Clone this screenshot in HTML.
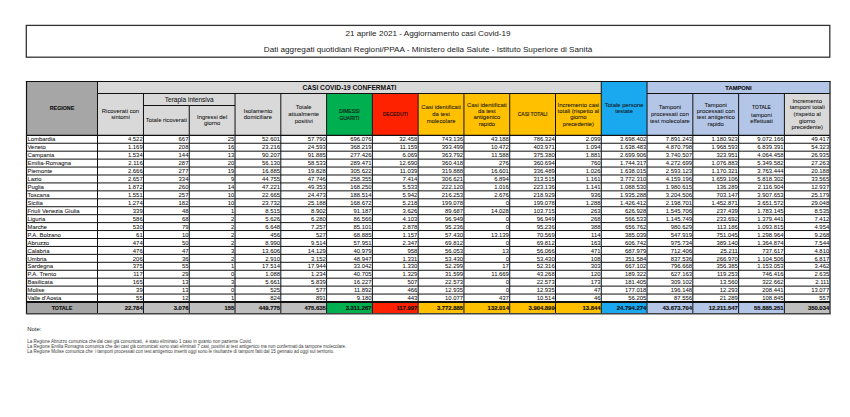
<!DOCTYPE html>
<html><head><meta charset="utf-8"><style>
html,body{margin:0;padding:0;background:#fff;width:850px;height:417px;overflow:hidden;position:relative;font-family:"Liberation Sans", sans-serif;color:#000}
svg{position:absolute;left:0;top:0}
.t{position:absolute;display:flex;align-items:center;overflow:visible;white-space:nowrap}
.t span{display:block}
.l1,.l2{position:absolute;left:26px;width:804px;text-align:center;font-size:7.6px;line-height:9px;color:#222;transform:scaleX(1.072)}
.l1{top:28.6px}
.l2{top:44.5px}
.h{font-size:5.9px;line-height:6.7px;color:#111;-webkit-text-stroke:0.05px #111}
.hb{font-size:5.8px;font-weight:bold;color:#111;-webkit-text-stroke:0.12px #111}
.hbig{font-size:6.65px;font-weight:bold;color:#111}
.u{font-weight:normal;font-size:4.95px;-webkit-text-stroke:0.12px #111}
.hmid{font-size:6.5px;color:#111;-webkit-text-stroke:0.05px #111}
.d{font-size:5.9px;line-height:7px;color:#111;padding-top:0.7px;-webkit-text-stroke:0.05px #111}
.db{font-size:5.9px;line-height:7px;font-weight:bold;color:#111;padding-top:0.5px;-webkit-text-stroke:0.15px #111}
.notes{position:absolute;left:27.3px;top:325px;color:#222}
.nt{font-size:5.9px;line-height:8px}
.nl{margin-top:7.3px;font-size:4.45px;line-height:4.65px;color:#3a3a3a}
</style></head><body>
<svg width="850" height="417" viewBox="0 0 850 417">
<rect x="26.3" y="25.4" width="803.5" height="31.8" fill="none" stroke="#333" stroke-width="1.3"/>
<rect x="26.50" y="81.50" width="71.00" height="53.80" fill="#a6a6a6"/>
<rect x="97.50" y="81.50" width="503.78" height="12.00" fill="#d9d9d9"/>
<rect x="97.50" y="93.50" width="229.10" height="41.80" fill="#d9d9d9"/>
<rect x="326.60" y="93.50" width="45.78" height="41.80" fill="#00b050"/>
<rect x="372.38" y="93.50" width="45.78" height="41.80" fill="#ff2200"/>
<rect x="418.16" y="93.50" width="45.78" height="41.80" fill="#ffc000"/>
<rect x="463.94" y="93.50" width="45.78" height="41.80" fill="#ffc000"/>
<rect x="509.72" y="93.50" width="45.78" height="41.80" fill="#ffc000"/>
<rect x="555.50" y="93.50" width="45.78" height="41.80" fill="#ffc000"/>
<rect x="601.28" y="81.50" width="45.78" height="53.80" fill="#1aa8ee"/>
<rect x="647.06" y="93.50" width="45.78" height="41.80" fill="#b4c6e7"/>
<rect x="692.84" y="93.50" width="45.78" height="41.80" fill="#b4c6e7"/>
<rect x="738.62" y="93.50" width="45.78" height="41.80" fill="#b4c6e7"/>
<rect x="784.40" y="93.50" width="45.60" height="41.80" fill="#d9d9d9"/>
<rect x="647.06" y="81.50" width="182.94" height="12.00" fill="#b4c6e7"/>
<rect x="26.50" y="302.00" width="71.00" height="11.80" fill="#a6a6a6"/>
<rect x="97.50" y="302.00" width="45.98" height="11.80" fill="#bfbfbf"/>
<rect x="143.48" y="302.00" width="45.78" height="11.80" fill="#bfbfbf"/>
<rect x="189.26" y="302.00" width="45.78" height="11.80" fill="#bfbfbf"/>
<rect x="235.04" y="302.00" width="45.78" height="11.80" fill="#bfbfbf"/>
<rect x="280.82" y="302.00" width="45.78" height="11.80" fill="#bfbfbf"/>
<rect x="326.60" y="302.00" width="45.78" height="11.80" fill="#00b050"/>
<rect x="372.38" y="302.00" width="45.78" height="11.80" fill="#ff2200"/>
<rect x="418.16" y="302.00" width="45.78" height="11.80" fill="#ffc000"/>
<rect x="463.94" y="302.00" width="45.78" height="11.80" fill="#ffc000"/>
<rect x="509.72" y="302.00" width="45.78" height="11.80" fill="#ffc000"/>
<rect x="555.50" y="302.00" width="45.78" height="11.80" fill="#ffc000"/>
<rect x="601.28" y="302.00" width="45.78" height="11.80" fill="#1aa8ee"/>
<rect x="647.06" y="302.00" width="45.78" height="11.80" fill="#b4c6e7"/>
<rect x="692.84" y="302.00" width="45.78" height="11.80" fill="#b4c6e7"/>
<rect x="738.62" y="302.00" width="45.78" height="11.80" fill="#b4c6e7"/>
<rect x="784.40" y="302.00" width="45.60" height="11.80" fill="#bfbfbf"/>
<line x1="25.90" y1="81.50" x2="830.70" y2="81.50" stroke="#111" stroke-width="1.2"/>
<line x1="97.50" y1="93.50" x2="601.28" y2="93.50" stroke="#111" stroke-width="1"/>
<line x1="647.06" y1="93.50" x2="830.00" y2="93.50" stroke="#111" stroke-width="1"/>
<line x1="143.48" y1="105.50" x2="235.04" y2="105.50" stroke="#111" stroke-width="1"/>
<line x1="26.50" y1="135.30" x2="830.00" y2="135.30" stroke="#111" stroke-width="1.2"/>
<line x1="26.50" y1="81.50" x2="26.50" y2="313.80" stroke="#111" stroke-width="1.2"/>
<line x1="830.00" y1="81.50" x2="830.00" y2="313.80" stroke="#333" stroke-width="1.4"/>
<line x1="97.50" y1="81.50" x2="97.50" y2="313.80" stroke="#111" stroke-width="1"/>
<line x1="601.28" y1="81.50" x2="601.28" y2="93.50" stroke="#111" stroke-width="1"/>
<line x1="647.06" y1="81.50" x2="647.06" y2="93.50" stroke="#111" stroke-width="1"/>
<line x1="143.48" y1="93.50" x2="143.48" y2="313.80" stroke="#111" stroke-width="1"/>
<line x1="189.26" y1="105.50" x2="189.26" y2="313.80" stroke="#111" stroke-width="1"/>
<line x1="235.04" y1="93.50" x2="235.04" y2="313.80" stroke="#111" stroke-width="1"/>
<line x1="280.82" y1="93.50" x2="280.82" y2="313.80" stroke="#111" stroke-width="1"/>
<line x1="326.60" y1="93.50" x2="326.60" y2="313.80" stroke="#111" stroke-width="1"/>
<line x1="372.38" y1="93.50" x2="372.38" y2="313.80" stroke="#111" stroke-width="1"/>
<line x1="418.16" y1="93.50" x2="418.16" y2="313.80" stroke="#111" stroke-width="1"/>
<line x1="463.94" y1="93.50" x2="463.94" y2="313.80" stroke="#111" stroke-width="1"/>
<line x1="509.72" y1="93.50" x2="509.72" y2="313.80" stroke="#111" stroke-width="1"/>
<line x1="555.50" y1="93.50" x2="555.50" y2="313.80" stroke="#111" stroke-width="1"/>
<line x1="601.28" y1="93.50" x2="601.28" y2="313.80" stroke="#111" stroke-width="1"/>
<line x1="647.06" y1="93.50" x2="647.06" y2="313.80" stroke="#111" stroke-width="1"/>
<line x1="692.84" y1="93.50" x2="692.84" y2="313.80" stroke="#111" stroke-width="1"/>
<line x1="738.62" y1="93.50" x2="738.62" y2="313.80" stroke="#111" stroke-width="1"/>
<line x1="784.40" y1="93.50" x2="784.40" y2="313.80" stroke="#111" stroke-width="1"/>
<line x1="26.50" y1="143.24" x2="830.00" y2="143.24" stroke="#111" stroke-width="1"/>
<line x1="26.50" y1="151.18" x2="830.00" y2="151.18" stroke="#111" stroke-width="1"/>
<line x1="26.50" y1="159.11" x2="830.00" y2="159.11" stroke="#111" stroke-width="1"/>
<line x1="26.50" y1="167.05" x2="830.00" y2="167.05" stroke="#111" stroke-width="1"/>
<line x1="26.50" y1="174.99" x2="830.00" y2="174.99" stroke="#111" stroke-width="1"/>
<line x1="26.50" y1="182.93" x2="830.00" y2="182.93" stroke="#111" stroke-width="1"/>
<line x1="26.50" y1="190.87" x2="830.00" y2="190.87" stroke="#111" stroke-width="1"/>
<line x1="26.50" y1="198.80" x2="830.00" y2="198.80" stroke="#111" stroke-width="1"/>
<line x1="26.50" y1="206.74" x2="830.00" y2="206.74" stroke="#111" stroke-width="1"/>
<line x1="26.50" y1="214.68" x2="830.00" y2="214.68" stroke="#111" stroke-width="1"/>
<line x1="26.50" y1="222.62" x2="830.00" y2="222.62" stroke="#111" stroke-width="1"/>
<line x1="26.50" y1="230.56" x2="830.00" y2="230.56" stroke="#111" stroke-width="1"/>
<line x1="26.50" y1="238.49" x2="830.00" y2="238.49" stroke="#111" stroke-width="1"/>
<line x1="26.50" y1="246.43" x2="830.00" y2="246.43" stroke="#111" stroke-width="1"/>
<line x1="26.50" y1="254.37" x2="830.00" y2="254.37" stroke="#111" stroke-width="1"/>
<line x1="26.50" y1="262.31" x2="830.00" y2="262.31" stroke="#111" stroke-width="1"/>
<line x1="26.50" y1="270.25" x2="830.00" y2="270.25" stroke="#111" stroke-width="1"/>
<line x1="26.50" y1="278.18" x2="830.00" y2="278.18" stroke="#111" stroke-width="1"/>
<line x1="26.50" y1="286.12" x2="830.00" y2="286.12" stroke="#111" stroke-width="1"/>
<line x1="26.50" y1="294.06" x2="830.00" y2="294.06" stroke="#111" stroke-width="1"/>
<line x1="26.50" y1="302.00" x2="830.00" y2="302.00" stroke="#111" stroke-width="1.8"/>
<line x1="25.90" y1="313.80" x2="830.70" y2="313.80" stroke="#444" stroke-width="1.5"/>
</svg>
<div class="l1">21 aprile 2021 - Aggiornamento casi Covid-19</div>
<div class="l2">Dati aggregati quotidiani Regioni/PPAA - Ministero della Salute - Istituto Superiore di Sanità</div>
<div class="t hb" style="left:26.50px;top:81.50px;width:71.00px;height:53.80px;justify-content:center;text-align:center;font-size:5.3px"><span>REGIONE</span></div>
<div class="t hbig" style="left:97.50px;top:81.50px;width:503.78px;height:12.00px;justify-content:center;text-align:center;"><span>CASI COVID-19 CONFERMATI</span></div>
<div class="t hb" style="left:647.06px;top:81.50px;width:182.94px;height:12.00px;justify-content:center;text-align:center;"><span>TAMPONI</span></div>
<div class="t hmid" style="left:143.48px;top:93.50px;width:91.56px;height:12.00px;justify-content:center;text-align:center;"><span>Terapia intensiva</span></div>
<div class="t h" style="left:97.50px;top:93.50px;width:45.98px;height:41.80px;justify-content:center;text-align:center;"><span>Ricoverati con<br>sintomi</span></div>
<div class="t h" style="left:143.48px;top:105.50px;width:45.78px;height:29.80px;justify-content:center;text-align:center;"><span>Totale ricoverati</span></div>
<div class="t h" style="left:189.26px;top:105.50px;width:45.78px;height:29.80px;justify-content:center;text-align:center;"><span>Ingressi del<br>giorno</span></div>
<div class="t h" style="left:235.04px;top:93.50px;width:45.78px;height:41.80px;justify-content:center;text-align:center;"><span>Isolamento<br>domiciliare</span></div>
<div class="t h" style="left:280.82px;top:93.50px;width:45.78px;height:41.80px;justify-content:center;text-align:center;"><span>Totale<br>attualmente<br>positivi</span></div>
<div class="t h" style="left:326.60px;top:93.50px;width:45.78px;height:41.80px;justify-content:center;text-align:center;padding-top:2px;box-sizing:border-box"><span><b class="u">DIMESSI<br>GUARITI</b></span></div>
<div class="t h" style="left:372.38px;top:93.50px;width:45.78px;height:41.80px;justify-content:center;text-align:center;"><span><b class="u">DECEDUTI</b></span></div>
<div class="t h" style="left:418.16px;top:93.50px;width:45.78px;height:41.80px;justify-content:center;text-align:center;"><span>Casi identificati<br>da test<br>molecolare</span></div>
<div class="t h" style="left:463.94px;top:93.50px;width:45.78px;height:41.80px;justify-content:center;text-align:center;line-height:6.4px"><span>Casi identificati<br>da test<br>antigenico<br>rapido</span></div>
<div class="t h" style="left:509.72px;top:93.50px;width:45.78px;height:41.80px;justify-content:center;text-align:center;"><span><b class="u">CASI TOTALI</b></span></div>
<div class="t h" style="left:555.50px;top:93.50px;width:45.78px;height:41.80px;justify-content:center;text-align:center;line-height:6.4px"><span>Incremento casi<br>totali (rispetto al<br>giorno<br>precedente)</span></div>
<div class="t h" style="left:601.28px;top:81.50px;width:45.78px;height:53.80px;justify-content:center;text-align:center;"><span>Totale persone<br>testate</span></div>
<div class="t h" style="left:647.06px;top:93.50px;width:45.78px;height:41.80px;justify-content:center;text-align:center;"><span>Tamponi<br>processati con<br>test molecolare</span></div>
<div class="t h" style="left:692.84px;top:93.50px;width:45.78px;height:41.80px;justify-content:center;text-align:center;line-height:6.4px"><span>Tamponi<br>processati con<br>test antigenico<br>rapido</span></div>
<div class="t h" style="left:738.62px;top:93.50px;width:45.78px;height:41.80px;justify-content:center;text-align:center;"><span><b class="u">TOTALE</b><br>tamponi<br>effettuati</span></div>
<div class="t h" style="left:784.40px;top:93.50px;width:45.60px;height:41.80px;justify-content:center;text-align:center;"><span>Incremento<br>tamponi totali<br>(rispetto al<br>giorno<br>precedente)</span></div>
<div class="t d" style="left:27.50px;top:135.30px;width:70.00px;height:7.94px;justify-content:flex-start;text-align:left;"><span>Lombardia</span></div>
<div class="t d" style="left:97.50px;top:135.30px;width:45.18px;height:7.94px;justify-content:flex-end;text-align:right;"><span>4.522</span></div>
<div class="t d" style="left:143.48px;top:135.30px;width:44.98px;height:7.94px;justify-content:flex-end;text-align:right;"><span>667</span></div>
<div class="t d" style="left:189.26px;top:135.30px;width:44.98px;height:7.94px;justify-content:flex-end;text-align:right;"><span>25</span></div>
<div class="t d" style="left:235.04px;top:135.30px;width:44.98px;height:7.94px;justify-content:flex-end;text-align:right;"><span>52.601</span></div>
<div class="t d" style="left:280.82px;top:135.30px;width:44.98px;height:7.94px;justify-content:flex-end;text-align:right;"><span>57.790</span></div>
<div class="t d" style="left:326.60px;top:135.30px;width:44.98px;height:7.94px;justify-content:flex-end;text-align:right;"><span>696.076</span></div>
<div class="t d" style="left:372.38px;top:135.30px;width:44.98px;height:7.94px;justify-content:flex-end;text-align:right;"><span>32.458</span></div>
<div class="t d" style="left:418.16px;top:135.30px;width:44.98px;height:7.94px;justify-content:flex-end;text-align:right;"><span>743.136</span></div>
<div class="t d" style="left:463.94px;top:135.30px;width:44.98px;height:7.94px;justify-content:flex-end;text-align:right;"><span>43.188</span></div>
<div class="t d" style="left:509.72px;top:135.30px;width:44.98px;height:7.94px;justify-content:flex-end;text-align:right;"><span>786.324</span></div>
<div class="t d" style="left:555.50px;top:135.30px;width:44.98px;height:7.94px;justify-content:flex-end;text-align:right;"><span>2.099</span></div>
<div class="t d" style="left:601.28px;top:135.30px;width:44.98px;height:7.94px;justify-content:flex-end;text-align:right;"><span>3.698.402</span></div>
<div class="t d" style="left:647.06px;top:135.30px;width:44.98px;height:7.94px;justify-content:flex-end;text-align:right;"><span>7.891.243</span></div>
<div class="t d" style="left:692.84px;top:135.30px;width:44.98px;height:7.94px;justify-content:flex-end;text-align:right;"><span>1.180.923</span></div>
<div class="t d" style="left:738.62px;top:135.30px;width:44.98px;height:7.94px;justify-content:flex-end;text-align:right;"><span>9.072.166</span></div>
<div class="t d" style="left:784.40px;top:135.30px;width:44.80px;height:7.94px;justify-content:flex-end;text-align:right;"><span>49.417</span></div>
<div class="t d" style="left:27.50px;top:143.24px;width:70.00px;height:7.94px;justify-content:flex-start;text-align:left;"><span>Veneto</span></div>
<div class="t d" style="left:97.50px;top:143.24px;width:45.18px;height:7.94px;justify-content:flex-end;text-align:right;"><span>1.169</span></div>
<div class="t d" style="left:143.48px;top:143.24px;width:44.98px;height:7.94px;justify-content:flex-end;text-align:right;"><span>208</span></div>
<div class="t d" style="left:189.26px;top:143.24px;width:44.98px;height:7.94px;justify-content:flex-end;text-align:right;"><span>16</span></div>
<div class="t d" style="left:235.04px;top:143.24px;width:44.98px;height:7.94px;justify-content:flex-end;text-align:right;"><span>23.216</span></div>
<div class="t d" style="left:280.82px;top:143.24px;width:44.98px;height:7.94px;justify-content:flex-end;text-align:right;"><span>24.593</span></div>
<div class="t d" style="left:326.60px;top:143.24px;width:44.98px;height:7.94px;justify-content:flex-end;text-align:right;"><span>368.219</span></div>
<div class="t d" style="left:372.38px;top:143.24px;width:44.98px;height:7.94px;justify-content:flex-end;text-align:right;"><span>11.159</span></div>
<div class="t d" style="left:418.16px;top:143.24px;width:44.98px;height:7.94px;justify-content:flex-end;text-align:right;"><span>393.499</span></div>
<div class="t d" style="left:463.94px;top:143.24px;width:44.98px;height:7.94px;justify-content:flex-end;text-align:right;"><span>10.472</span></div>
<div class="t d" style="left:509.72px;top:143.24px;width:44.98px;height:7.94px;justify-content:flex-end;text-align:right;"><span>403.971</span></div>
<div class="t d" style="left:555.50px;top:143.24px;width:44.98px;height:7.94px;justify-content:flex-end;text-align:right;"><span>1.094</span></div>
<div class="t d" style="left:601.28px;top:143.24px;width:44.98px;height:7.94px;justify-content:flex-end;text-align:right;"><span>1.638.483</span></div>
<div class="t d" style="left:647.06px;top:143.24px;width:44.98px;height:7.94px;justify-content:flex-end;text-align:right;"><span>4.870.798</span></div>
<div class="t d" style="left:692.84px;top:143.24px;width:44.98px;height:7.94px;justify-content:flex-end;text-align:right;"><span>1.968.593</span></div>
<div class="t d" style="left:738.62px;top:143.24px;width:44.98px;height:7.94px;justify-content:flex-end;text-align:right;"><span>6.839.391</span></div>
<div class="t d" style="left:784.40px;top:143.24px;width:44.80px;height:7.94px;justify-content:flex-end;text-align:right;"><span>54.323</span></div>
<div class="t d" style="left:27.50px;top:151.18px;width:70.00px;height:7.94px;justify-content:flex-start;text-align:left;"><span>Campania</span></div>
<div class="t d" style="left:97.50px;top:151.18px;width:45.18px;height:7.94px;justify-content:flex-end;text-align:right;"><span>1.534</span></div>
<div class="t d" style="left:143.48px;top:151.18px;width:44.98px;height:7.94px;justify-content:flex-end;text-align:right;"><span>144</span></div>
<div class="t d" style="left:189.26px;top:151.18px;width:44.98px;height:7.94px;justify-content:flex-end;text-align:right;"><span>13</span></div>
<div class="t d" style="left:235.04px;top:151.18px;width:44.98px;height:7.94px;justify-content:flex-end;text-align:right;"><span>90.207</span></div>
<div class="t d" style="left:280.82px;top:151.18px;width:44.98px;height:7.94px;justify-content:flex-end;text-align:right;"><span>91.885</span></div>
<div class="t d" style="left:326.60px;top:151.18px;width:44.98px;height:7.94px;justify-content:flex-end;text-align:right;"><span>277.426</span></div>
<div class="t d" style="left:372.38px;top:151.18px;width:44.98px;height:7.94px;justify-content:flex-end;text-align:right;"><span>6.069</span></div>
<div class="t d" style="left:418.16px;top:151.18px;width:44.98px;height:7.94px;justify-content:flex-end;text-align:right;"><span>363.792</span></div>
<div class="t d" style="left:463.94px;top:151.18px;width:44.98px;height:7.94px;justify-content:flex-end;text-align:right;"><span>11.588</span></div>
<div class="t d" style="left:509.72px;top:151.18px;width:44.98px;height:7.94px;justify-content:flex-end;text-align:right;"><span>375.380</span></div>
<div class="t d" style="left:555.50px;top:151.18px;width:44.98px;height:7.94px;justify-content:flex-end;text-align:right;"><span>1.881</span></div>
<div class="t d" style="left:601.28px;top:151.18px;width:44.98px;height:7.94px;justify-content:flex-end;text-align:right;"><span>2.699.906</span></div>
<div class="t d" style="left:647.06px;top:151.18px;width:44.98px;height:7.94px;justify-content:flex-end;text-align:right;"><span>3.740.507</span></div>
<div class="t d" style="left:692.84px;top:151.18px;width:44.98px;height:7.94px;justify-content:flex-end;text-align:right;"><span>323.951</span></div>
<div class="t d" style="left:738.62px;top:151.18px;width:44.98px;height:7.94px;justify-content:flex-end;text-align:right;"><span>4.064.458</span></div>
<div class="t d" style="left:784.40px;top:151.18px;width:44.80px;height:7.94px;justify-content:flex-end;text-align:right;"><span>26.935</span></div>
<div class="t d" style="left:27.50px;top:159.11px;width:70.00px;height:7.94px;justify-content:flex-start;text-align:left;"><span>Emilia-Romagna</span></div>
<div class="t d" style="left:97.50px;top:159.11px;width:45.18px;height:7.94px;justify-content:flex-end;text-align:right;"><span>2.116</span></div>
<div class="t d" style="left:143.48px;top:159.11px;width:44.98px;height:7.94px;justify-content:flex-end;text-align:right;"><span>287</span></div>
<div class="t d" style="left:189.26px;top:159.11px;width:44.98px;height:7.94px;justify-content:flex-end;text-align:right;"><span>20</span></div>
<div class="t d" style="left:235.04px;top:159.11px;width:44.98px;height:7.94px;justify-content:flex-end;text-align:right;"><span>56.130</span></div>
<div class="t d" style="left:280.82px;top:159.11px;width:44.98px;height:7.94px;justify-content:flex-end;text-align:right;"><span>58.533</span></div>
<div class="t d" style="left:326.60px;top:159.11px;width:44.98px;height:7.94px;justify-content:flex-end;text-align:right;"><span>289.471</span></div>
<div class="t d" style="left:372.38px;top:159.11px;width:44.98px;height:7.94px;justify-content:flex-end;text-align:right;"><span>12.690</span></div>
<div class="t d" style="left:418.16px;top:159.11px;width:44.98px;height:7.94px;justify-content:flex-end;text-align:right;"><span>360.418</span></div>
<div class="t d" style="left:463.94px;top:159.11px;width:44.98px;height:7.94px;justify-content:flex-end;text-align:right;"><span>276</span></div>
<div class="t d" style="left:509.72px;top:159.11px;width:44.98px;height:7.94px;justify-content:flex-end;text-align:right;"><span>360.694</span></div>
<div class="t d" style="left:555.50px;top:159.11px;width:44.98px;height:7.94px;justify-content:flex-end;text-align:right;"><span>760</span></div>
<div class="t d" style="left:601.28px;top:159.11px;width:44.98px;height:7.94px;justify-content:flex-end;text-align:right;"><span>1.744.317</span></div>
<div class="t d" style="left:647.06px;top:159.11px;width:44.98px;height:7.94px;justify-content:flex-end;text-align:right;"><span>4.272.699</span></div>
<div class="t d" style="left:692.84px;top:159.11px;width:44.98px;height:7.94px;justify-content:flex-end;text-align:right;"><span>1.076.883</span></div>
<div class="t d" style="left:738.62px;top:159.11px;width:44.98px;height:7.94px;justify-content:flex-end;text-align:right;"><span>5.349.582</span></div>
<div class="t d" style="left:784.40px;top:159.11px;width:44.80px;height:7.94px;justify-content:flex-end;text-align:right;"><span>27.263</span></div>
<div class="t d" style="left:27.50px;top:167.05px;width:70.00px;height:7.94px;justify-content:flex-start;text-align:left;"><span>Piemonte</span></div>
<div class="t d" style="left:97.50px;top:167.05px;width:45.18px;height:7.94px;justify-content:flex-end;text-align:right;"><span>2.666</span></div>
<div class="t d" style="left:143.48px;top:167.05px;width:44.98px;height:7.94px;justify-content:flex-end;text-align:right;"><span>277</span></div>
<div class="t d" style="left:189.26px;top:167.05px;width:44.98px;height:7.94px;justify-content:flex-end;text-align:right;"><span>19</span></div>
<div class="t d" style="left:235.04px;top:167.05px;width:44.98px;height:7.94px;justify-content:flex-end;text-align:right;"><span>16.885</span></div>
<div class="t d" style="left:280.82px;top:167.05px;width:44.98px;height:7.94px;justify-content:flex-end;text-align:right;"><span>19.828</span></div>
<div class="t d" style="left:326.60px;top:167.05px;width:44.98px;height:7.94px;justify-content:flex-end;text-align:right;"><span>305.622</span></div>
<div class="t d" style="left:372.38px;top:167.05px;width:44.98px;height:7.94px;justify-content:flex-end;text-align:right;"><span>11.039</span></div>
<div class="t d" style="left:418.16px;top:167.05px;width:44.98px;height:7.94px;justify-content:flex-end;text-align:right;"><span>319.888</span></div>
<div class="t d" style="left:463.94px;top:167.05px;width:44.98px;height:7.94px;justify-content:flex-end;text-align:right;"><span>16.601</span></div>
<div class="t d" style="left:509.72px;top:167.05px;width:44.98px;height:7.94px;justify-content:flex-end;text-align:right;"><span>336.489</span></div>
<div class="t d" style="left:555.50px;top:167.05px;width:44.98px;height:7.94px;justify-content:flex-end;text-align:right;"><span>1.026</span></div>
<div class="t d" style="left:601.28px;top:167.05px;width:44.98px;height:7.94px;justify-content:flex-end;text-align:right;"><span>1.638.015</span></div>
<div class="t d" style="left:647.06px;top:167.05px;width:44.98px;height:7.94px;justify-content:flex-end;text-align:right;"><span>2.593.123</span></div>
<div class="t d" style="left:692.84px;top:167.05px;width:44.98px;height:7.94px;justify-content:flex-end;text-align:right;"><span>1.170.321</span></div>
<div class="t d" style="left:738.62px;top:167.05px;width:44.98px;height:7.94px;justify-content:flex-end;text-align:right;"><span>3.763.444</span></div>
<div class="t d" style="left:784.40px;top:167.05px;width:44.80px;height:7.94px;justify-content:flex-end;text-align:right;"><span>20.188</span></div>
<div class="t d" style="left:27.50px;top:174.99px;width:70.00px;height:7.94px;justify-content:flex-start;text-align:left;"><span>Lazio</span></div>
<div class="t d" style="left:97.50px;top:174.99px;width:45.18px;height:7.94px;justify-content:flex-end;text-align:right;"><span>2.657</span></div>
<div class="t d" style="left:143.48px;top:174.99px;width:44.98px;height:7.94px;justify-content:flex-end;text-align:right;"><span>334</span></div>
<div class="t d" style="left:189.26px;top:174.99px;width:44.98px;height:7.94px;justify-content:flex-end;text-align:right;"><span>9</span></div>
<div class="t d" style="left:235.04px;top:174.99px;width:44.98px;height:7.94px;justify-content:flex-end;text-align:right;"><span>44.755</span></div>
<div class="t d" style="left:280.82px;top:174.99px;width:44.98px;height:7.94px;justify-content:flex-end;text-align:right;"><span>47.746</span></div>
<div class="t d" style="left:326.60px;top:174.99px;width:44.98px;height:7.94px;justify-content:flex-end;text-align:right;"><span>258.355</span></div>
<div class="t d" style="left:372.38px;top:174.99px;width:44.98px;height:7.94px;justify-content:flex-end;text-align:right;"><span>7.414</span></div>
<div class="t d" style="left:418.16px;top:174.99px;width:44.98px;height:7.94px;justify-content:flex-end;text-align:right;"><span>306.621</span></div>
<div class="t d" style="left:463.94px;top:174.99px;width:44.98px;height:7.94px;justify-content:flex-end;text-align:right;"><span>6.894</span></div>
<div class="t d" style="left:509.72px;top:174.99px;width:44.98px;height:7.94px;justify-content:flex-end;text-align:right;"><span>313.515</span></div>
<div class="t d" style="left:555.50px;top:174.99px;width:44.98px;height:7.94px;justify-content:flex-end;text-align:right;"><span>1.161</span></div>
<div class="t d" style="left:601.28px;top:174.99px;width:44.98px;height:7.94px;justify-content:flex-end;text-align:right;"><span>3.772.310</span></div>
<div class="t d" style="left:647.06px;top:174.99px;width:44.98px;height:7.94px;justify-content:flex-end;text-align:right;"><span>4.159.196</span></div>
<div class="t d" style="left:692.84px;top:174.99px;width:44.98px;height:7.94px;justify-content:flex-end;text-align:right;"><span>1.659.106</span></div>
<div class="t d" style="left:738.62px;top:174.99px;width:44.98px;height:7.94px;justify-content:flex-end;text-align:right;"><span>5.818.302</span></div>
<div class="t d" style="left:784.40px;top:174.99px;width:44.80px;height:7.94px;justify-content:flex-end;text-align:right;"><span>33.565</span></div>
<div class="t d" style="left:27.50px;top:182.93px;width:70.00px;height:7.94px;justify-content:flex-start;text-align:left;"><span>Puglia</span></div>
<div class="t d" style="left:97.50px;top:182.93px;width:45.18px;height:7.94px;justify-content:flex-end;text-align:right;"><span>1.872</span></div>
<div class="t d" style="left:143.48px;top:182.93px;width:44.98px;height:7.94px;justify-content:flex-end;text-align:right;"><span>260</span></div>
<div class="t d" style="left:189.26px;top:182.93px;width:44.98px;height:7.94px;justify-content:flex-end;text-align:right;"><span>14</span></div>
<div class="t d" style="left:235.04px;top:182.93px;width:44.98px;height:7.94px;justify-content:flex-end;text-align:right;"><span>47.221</span></div>
<div class="t d" style="left:280.82px;top:182.93px;width:44.98px;height:7.94px;justify-content:flex-end;text-align:right;"><span>49.353</span></div>
<div class="t d" style="left:326.60px;top:182.93px;width:44.98px;height:7.94px;justify-content:flex-end;text-align:right;"><span>168.250</span></div>
<div class="t d" style="left:372.38px;top:182.93px;width:44.98px;height:7.94px;justify-content:flex-end;text-align:right;"><span>5.533</span></div>
<div class="t d" style="left:418.16px;top:182.93px;width:44.98px;height:7.94px;justify-content:flex-end;text-align:right;"><span>222.120</span></div>
<div class="t d" style="left:463.94px;top:182.93px;width:44.98px;height:7.94px;justify-content:flex-end;text-align:right;"><span>1.016</span></div>
<div class="t d" style="left:509.72px;top:182.93px;width:44.98px;height:7.94px;justify-content:flex-end;text-align:right;"><span>223.136</span></div>
<div class="t d" style="left:555.50px;top:182.93px;width:44.98px;height:7.94px;justify-content:flex-end;text-align:right;"><span>1.141</span></div>
<div class="t d" style="left:601.28px;top:182.93px;width:44.98px;height:7.94px;justify-content:flex-end;text-align:right;"><span>1.088.530</span></div>
<div class="t d" style="left:647.06px;top:182.93px;width:44.98px;height:7.94px;justify-content:flex-end;text-align:right;"><span>1.980.615</span></div>
<div class="t d" style="left:692.84px;top:182.93px;width:44.98px;height:7.94px;justify-content:flex-end;text-align:right;"><span>136.289</span></div>
<div class="t d" style="left:738.62px;top:182.93px;width:44.98px;height:7.94px;justify-content:flex-end;text-align:right;"><span>2.116.904</span></div>
<div class="t d" style="left:784.40px;top:182.93px;width:44.80px;height:7.94px;justify-content:flex-end;text-align:right;"><span>12.937</span></div>
<div class="t d" style="left:27.50px;top:190.87px;width:70.00px;height:7.94px;justify-content:flex-start;text-align:left;"><span>Toscana</span></div>
<div class="t d" style="left:97.50px;top:190.87px;width:45.18px;height:7.94px;justify-content:flex-end;text-align:right;"><span>1.551</span></div>
<div class="t d" style="left:143.48px;top:190.87px;width:44.98px;height:7.94px;justify-content:flex-end;text-align:right;"><span>257</span></div>
<div class="t d" style="left:189.26px;top:190.87px;width:44.98px;height:7.94px;justify-content:flex-end;text-align:right;"><span>10</span></div>
<div class="t d" style="left:235.04px;top:190.87px;width:44.98px;height:7.94px;justify-content:flex-end;text-align:right;"><span>22.665</span></div>
<div class="t d" style="left:280.82px;top:190.87px;width:44.98px;height:7.94px;justify-content:flex-end;text-align:right;"><span>24.473</span></div>
<div class="t d" style="left:326.60px;top:190.87px;width:44.98px;height:7.94px;justify-content:flex-end;text-align:right;"><span>188.514</span></div>
<div class="t d" style="left:372.38px;top:190.87px;width:44.98px;height:7.94px;justify-content:flex-end;text-align:right;"><span>5.942</span></div>
<div class="t d" style="left:418.16px;top:190.87px;width:44.98px;height:7.94px;justify-content:flex-end;text-align:right;"><span>216.253</span></div>
<div class="t d" style="left:463.94px;top:190.87px;width:44.98px;height:7.94px;justify-content:flex-end;text-align:right;"><span>2.676</span></div>
<div class="t d" style="left:509.72px;top:190.87px;width:44.98px;height:7.94px;justify-content:flex-end;text-align:right;"><span>218.929</span></div>
<div class="t d" style="left:555.50px;top:190.87px;width:44.98px;height:7.94px;justify-content:flex-end;text-align:right;"><span>936</span></div>
<div class="t d" style="left:601.28px;top:190.87px;width:44.98px;height:7.94px;justify-content:flex-end;text-align:right;"><span>1.935.288</span></div>
<div class="t d" style="left:647.06px;top:190.87px;width:44.98px;height:7.94px;justify-content:flex-end;text-align:right;"><span>3.204.506</span></div>
<div class="t d" style="left:692.84px;top:190.87px;width:44.98px;height:7.94px;justify-content:flex-end;text-align:right;"><span>703.147</span></div>
<div class="t d" style="left:738.62px;top:190.87px;width:44.98px;height:7.94px;justify-content:flex-end;text-align:right;"><span>3.907.653</span></div>
<div class="t d" style="left:784.40px;top:190.87px;width:44.80px;height:7.94px;justify-content:flex-end;text-align:right;"><span>25.179</span></div>
<div class="t d" style="left:27.50px;top:198.80px;width:70.00px;height:7.94px;justify-content:flex-start;text-align:left;"><span>Sicilia</span></div>
<div class="t d" style="left:97.50px;top:198.80px;width:45.18px;height:7.94px;justify-content:flex-end;text-align:right;"><span>1.274</span></div>
<div class="t d" style="left:143.48px;top:198.80px;width:44.98px;height:7.94px;justify-content:flex-end;text-align:right;"><span>182</span></div>
<div class="t d" style="left:189.26px;top:198.80px;width:44.98px;height:7.94px;justify-content:flex-end;text-align:right;"><span>10</span></div>
<div class="t d" style="left:235.04px;top:198.80px;width:44.98px;height:7.94px;justify-content:flex-end;text-align:right;"><span>23.732</span></div>
<div class="t d" style="left:280.82px;top:198.80px;width:44.98px;height:7.94px;justify-content:flex-end;text-align:right;"><span>25.188</span></div>
<div class="t d" style="left:326.60px;top:198.80px;width:44.98px;height:7.94px;justify-content:flex-end;text-align:right;"><span>168.672</span></div>
<div class="t d" style="left:372.38px;top:198.80px;width:44.98px;height:7.94px;justify-content:flex-end;text-align:right;"><span>5.218</span></div>
<div class="t d" style="left:418.16px;top:198.80px;width:44.98px;height:7.94px;justify-content:flex-end;text-align:right;"><span>199.078</span></div>
<div class="t d" style="left:463.94px;top:198.80px;width:44.98px;height:7.94px;justify-content:flex-end;text-align:right;"><span>0</span></div>
<div class="t d" style="left:509.72px;top:198.80px;width:44.98px;height:7.94px;justify-content:flex-end;text-align:right;"><span>199.078</span></div>
<div class="t d" style="left:555.50px;top:198.80px;width:44.98px;height:7.94px;justify-content:flex-end;text-align:right;"><span>1.288</span></div>
<div class="t d" style="left:601.28px;top:198.80px;width:44.98px;height:7.94px;justify-content:flex-end;text-align:right;"><span>1.426.412</span></div>
<div class="t d" style="left:647.06px;top:198.80px;width:44.98px;height:7.94px;justify-content:flex-end;text-align:right;"><span>2.198.701</span></div>
<div class="t d" style="left:692.84px;top:198.80px;width:44.98px;height:7.94px;justify-content:flex-end;text-align:right;"><span>1.452.871</span></div>
<div class="t d" style="left:738.62px;top:198.80px;width:44.98px;height:7.94px;justify-content:flex-end;text-align:right;"><span>3.651.572</span></div>
<div class="t d" style="left:784.40px;top:198.80px;width:44.80px;height:7.94px;justify-content:flex-end;text-align:right;"><span>29.048</span></div>
<div class="t d" style="left:27.50px;top:206.74px;width:70.00px;height:7.94px;justify-content:flex-start;text-align:left;"><span>Friuli Venezia Giulia</span></div>
<div class="t d" style="left:97.50px;top:206.74px;width:45.18px;height:7.94px;justify-content:flex-end;text-align:right;"><span>339</span></div>
<div class="t d" style="left:143.48px;top:206.74px;width:44.98px;height:7.94px;justify-content:flex-end;text-align:right;"><span>48</span></div>
<div class="t d" style="left:189.26px;top:206.74px;width:44.98px;height:7.94px;justify-content:flex-end;text-align:right;"><span>1</span></div>
<div class="t d" style="left:235.04px;top:206.74px;width:44.98px;height:7.94px;justify-content:flex-end;text-align:right;"><span>8.515</span></div>
<div class="t d" style="left:280.82px;top:206.74px;width:44.98px;height:7.94px;justify-content:flex-end;text-align:right;"><span>8.902</span></div>
<div class="t d" style="left:326.60px;top:206.74px;width:44.98px;height:7.94px;justify-content:flex-end;text-align:right;"><span>91.187</span></div>
<div class="t d" style="left:372.38px;top:206.74px;width:44.98px;height:7.94px;justify-content:flex-end;text-align:right;"><span>3.626</span></div>
<div class="t d" style="left:418.16px;top:206.74px;width:44.98px;height:7.94px;justify-content:flex-end;text-align:right;"><span>89.687</span></div>
<div class="t d" style="left:463.94px;top:206.74px;width:44.98px;height:7.94px;justify-content:flex-end;text-align:right;"><span>14.028</span></div>
<div class="t d" style="left:509.72px;top:206.74px;width:44.98px;height:7.94px;justify-content:flex-end;text-align:right;"><span>103.715</span></div>
<div class="t d" style="left:555.50px;top:206.74px;width:44.98px;height:7.94px;justify-content:flex-end;text-align:right;"><span>263</span></div>
<div class="t d" style="left:601.28px;top:206.74px;width:44.98px;height:7.94px;justify-content:flex-end;text-align:right;"><span>626.928</span></div>
<div class="t d" style="left:647.06px;top:206.74px;width:44.98px;height:7.94px;justify-content:flex-end;text-align:right;"><span>1.545.706</span></div>
<div class="t d" style="left:692.84px;top:206.74px;width:44.98px;height:7.94px;justify-content:flex-end;text-align:right;"><span>237.439</span></div>
<div class="t d" style="left:738.62px;top:206.74px;width:44.98px;height:7.94px;justify-content:flex-end;text-align:right;"><span>1.783.145</span></div>
<div class="t d" style="left:784.40px;top:206.74px;width:44.80px;height:7.94px;justify-content:flex-end;text-align:right;"><span>8.535</span></div>
<div class="t d" style="left:27.50px;top:214.68px;width:70.00px;height:7.94px;justify-content:flex-start;text-align:left;"><span>Liguria</span></div>
<div class="t d" style="left:97.50px;top:214.68px;width:45.18px;height:7.94px;justify-content:flex-end;text-align:right;"><span>586</span></div>
<div class="t d" style="left:143.48px;top:214.68px;width:44.98px;height:7.94px;justify-content:flex-end;text-align:right;"><span>68</span></div>
<div class="t d" style="left:189.26px;top:214.68px;width:44.98px;height:7.94px;justify-content:flex-end;text-align:right;"><span>2</span></div>
<div class="t d" style="left:235.04px;top:214.68px;width:44.98px;height:7.94px;justify-content:flex-end;text-align:right;"><span>5.626</span></div>
<div class="t d" style="left:280.82px;top:214.68px;width:44.98px;height:7.94px;justify-content:flex-end;text-align:right;"><span>6.280</span></div>
<div class="t d" style="left:326.60px;top:214.68px;width:44.98px;height:7.94px;justify-content:flex-end;text-align:right;"><span>86.566</span></div>
<div class="t d" style="left:372.38px;top:214.68px;width:44.98px;height:7.94px;justify-content:flex-end;text-align:right;"><span>4.103</span></div>
<div class="t d" style="left:418.16px;top:214.68px;width:44.98px;height:7.94px;justify-content:flex-end;text-align:right;"><span>96.949</span></div>
<div class="t d" style="left:463.94px;top:214.68px;width:44.98px;height:7.94px;justify-content:flex-end;text-align:right;"><span>0</span></div>
<div class="t d" style="left:509.72px;top:214.68px;width:44.98px;height:7.94px;justify-content:flex-end;text-align:right;"><span>96.949</span></div>
<div class="t d" style="left:555.50px;top:214.68px;width:44.98px;height:7.94px;justify-content:flex-end;text-align:right;"><span>268</span></div>
<div class="t d" style="left:601.28px;top:214.68px;width:44.98px;height:7.94px;justify-content:flex-end;text-align:right;"><span>566.533</span></div>
<div class="t d" style="left:647.06px;top:214.68px;width:44.98px;height:7.94px;justify-content:flex-end;text-align:right;"><span>1.145.749</span></div>
<div class="t d" style="left:692.84px;top:214.68px;width:44.98px;height:7.94px;justify-content:flex-end;text-align:right;"><span>233.692</span></div>
<div class="t d" style="left:738.62px;top:214.68px;width:44.98px;height:7.94px;justify-content:flex-end;text-align:right;"><span>1.379.441</span></div>
<div class="t d" style="left:784.40px;top:214.68px;width:44.80px;height:7.94px;justify-content:flex-end;text-align:right;"><span>7.412</span></div>
<div class="t d" style="left:27.50px;top:222.62px;width:70.00px;height:7.94px;justify-content:flex-start;text-align:left;"><span>Marche</span></div>
<div class="t d" style="left:97.50px;top:222.62px;width:45.18px;height:7.94px;justify-content:flex-end;text-align:right;"><span>530</span></div>
<div class="t d" style="left:143.48px;top:222.62px;width:44.98px;height:7.94px;justify-content:flex-end;text-align:right;"><span>79</span></div>
<div class="t d" style="left:189.26px;top:222.62px;width:44.98px;height:7.94px;justify-content:flex-end;text-align:right;"><span>2</span></div>
<div class="t d" style="left:235.04px;top:222.62px;width:44.98px;height:7.94px;justify-content:flex-end;text-align:right;"><span>6.648</span></div>
<div class="t d" style="left:280.82px;top:222.62px;width:44.98px;height:7.94px;justify-content:flex-end;text-align:right;"><span>7.257</span></div>
<div class="t d" style="left:326.60px;top:222.62px;width:44.98px;height:7.94px;justify-content:flex-end;text-align:right;"><span>85.101</span></div>
<div class="t d" style="left:372.38px;top:222.62px;width:44.98px;height:7.94px;justify-content:flex-end;text-align:right;"><span>2.878</span></div>
<div class="t d" style="left:418.16px;top:222.62px;width:44.98px;height:7.94px;justify-content:flex-end;text-align:right;"><span>95.236</span></div>
<div class="t d" style="left:463.94px;top:222.62px;width:44.98px;height:7.94px;justify-content:flex-end;text-align:right;"><span>0</span></div>
<div class="t d" style="left:509.72px;top:222.62px;width:44.98px;height:7.94px;justify-content:flex-end;text-align:right;"><span>95.236</span></div>
<div class="t d" style="left:555.50px;top:222.62px;width:44.98px;height:7.94px;justify-content:flex-end;text-align:right;"><span>388</span></div>
<div class="t d" style="left:601.28px;top:222.62px;width:44.98px;height:7.94px;justify-content:flex-end;text-align:right;"><span>656.762</span></div>
<div class="t d" style="left:647.06px;top:222.62px;width:44.98px;height:7.94px;justify-content:flex-end;text-align:right;"><span>980.629</span></div>
<div class="t d" style="left:692.84px;top:222.62px;width:44.98px;height:7.94px;justify-content:flex-end;text-align:right;"><span>113.186</span></div>
<div class="t d" style="left:738.62px;top:222.62px;width:44.98px;height:7.94px;justify-content:flex-end;text-align:right;"><span>1.093.815</span></div>
<div class="t d" style="left:784.40px;top:222.62px;width:44.80px;height:7.94px;justify-content:flex-end;text-align:right;"><span>4.954</span></div>
<div class="t d" style="left:27.50px;top:230.56px;width:70.00px;height:7.94px;justify-content:flex-start;text-align:left;"><span>P.A. Bolzano</span></div>
<div class="t d" style="left:97.50px;top:230.56px;width:45.18px;height:7.94px;justify-content:flex-end;text-align:right;"><span>61</span></div>
<div class="t d" style="left:143.48px;top:230.56px;width:44.98px;height:7.94px;justify-content:flex-end;text-align:right;"><span>10</span></div>
<div class="t d" style="left:189.26px;top:230.56px;width:44.98px;height:7.94px;justify-content:flex-end;text-align:right;"><span>2</span></div>
<div class="t d" style="left:235.04px;top:230.56px;width:44.98px;height:7.94px;justify-content:flex-end;text-align:right;"><span>456</span></div>
<div class="t d" style="left:280.82px;top:230.56px;width:44.98px;height:7.94px;justify-content:flex-end;text-align:right;"><span>527</span></div>
<div class="t d" style="left:326.60px;top:230.56px;width:44.98px;height:7.94px;justify-content:flex-end;text-align:right;"><span>68.885</span></div>
<div class="t d" style="left:372.38px;top:230.56px;width:44.98px;height:7.94px;justify-content:flex-end;text-align:right;"><span>1.157</span></div>
<div class="t d" style="left:418.16px;top:230.56px;width:44.98px;height:7.94px;justify-content:flex-end;text-align:right;"><span>57.430</span></div>
<div class="t d" style="left:463.94px;top:230.56px;width:44.98px;height:7.94px;justify-content:flex-end;text-align:right;"><span>13.139</span></div>
<div class="t d" style="left:509.72px;top:230.56px;width:44.98px;height:7.94px;justify-content:flex-end;text-align:right;"><span>70.569</span></div>
<div class="t d" style="left:555.50px;top:230.56px;width:44.98px;height:7.94px;justify-content:flex-end;text-align:right;"><span>114</span></div>
<div class="t d" style="left:601.28px;top:230.56px;width:44.98px;height:7.94px;justify-content:flex-end;text-align:right;"><span>385.039</span></div>
<div class="t d" style="left:647.06px;top:230.56px;width:44.98px;height:7.94px;justify-content:flex-end;text-align:right;"><span>547.919</span></div>
<div class="t d" style="left:692.84px;top:230.56px;width:44.98px;height:7.94px;justify-content:flex-end;text-align:right;"><span>751.045</span></div>
<div class="t d" style="left:738.62px;top:230.56px;width:44.98px;height:7.94px;justify-content:flex-end;text-align:right;"><span>1.298.964</span></div>
<div class="t d" style="left:784.40px;top:230.56px;width:44.80px;height:7.94px;justify-content:flex-end;text-align:right;"><span>9.268</span></div>
<div class="t d" style="left:27.50px;top:238.49px;width:70.00px;height:7.94px;justify-content:flex-start;text-align:left;"><span>Abruzzo</span></div>
<div class="t d" style="left:97.50px;top:238.49px;width:45.18px;height:7.94px;justify-content:flex-end;text-align:right;"><span>474</span></div>
<div class="t d" style="left:143.48px;top:238.49px;width:44.98px;height:7.94px;justify-content:flex-end;text-align:right;"><span>50</span></div>
<div class="t d" style="left:189.26px;top:238.49px;width:44.98px;height:7.94px;justify-content:flex-end;text-align:right;"><span>2</span></div>
<div class="t d" style="left:235.04px;top:238.49px;width:44.98px;height:7.94px;justify-content:flex-end;text-align:right;"><span>8.990</span></div>
<div class="t d" style="left:280.82px;top:238.49px;width:44.98px;height:7.94px;justify-content:flex-end;text-align:right;"><span>9.514</span></div>
<div class="t d" style="left:326.60px;top:238.49px;width:44.98px;height:7.94px;justify-content:flex-end;text-align:right;"><span>57.951</span></div>
<div class="t d" style="left:372.38px;top:238.49px;width:44.98px;height:7.94px;justify-content:flex-end;text-align:right;"><span>2.347</span></div>
<div class="t d" style="left:418.16px;top:238.49px;width:44.98px;height:7.94px;justify-content:flex-end;text-align:right;"><span>69.812</span></div>
<div class="t d" style="left:463.94px;top:238.49px;width:44.98px;height:7.94px;justify-content:flex-end;text-align:right;"><span>0</span></div>
<div class="t d" style="left:509.72px;top:238.49px;width:44.98px;height:7.94px;justify-content:flex-end;text-align:right;"><span>69.812</span></div>
<div class="t d" style="left:555.50px;top:238.49px;width:44.98px;height:7.94px;justify-content:flex-end;text-align:right;"><span>163</span></div>
<div class="t d" style="left:601.28px;top:238.49px;width:44.98px;height:7.94px;justify-content:flex-end;text-align:right;"><span>606.742</span></div>
<div class="t d" style="left:647.06px;top:238.49px;width:44.98px;height:7.94px;justify-content:flex-end;text-align:right;"><span>975.734</span></div>
<div class="t d" style="left:692.84px;top:238.49px;width:44.98px;height:7.94px;justify-content:flex-end;text-align:right;"><span>389.140</span></div>
<div class="t d" style="left:738.62px;top:238.49px;width:44.98px;height:7.94px;justify-content:flex-end;text-align:right;"><span>1.364.874</span></div>
<div class="t d" style="left:784.40px;top:238.49px;width:44.80px;height:7.94px;justify-content:flex-end;text-align:right;"><span>7.544</span></div>
<div class="t d" style="left:27.50px;top:246.43px;width:70.00px;height:7.94px;justify-content:flex-start;text-align:left;"><span>Calabria</span></div>
<div class="t d" style="left:97.50px;top:246.43px;width:45.18px;height:7.94px;justify-content:flex-end;text-align:right;"><span>476</span></div>
<div class="t d" style="left:143.48px;top:246.43px;width:44.98px;height:7.94px;justify-content:flex-end;text-align:right;"><span>47</span></div>
<div class="t d" style="left:189.26px;top:246.43px;width:44.98px;height:7.94px;justify-content:flex-end;text-align:right;"><span>3</span></div>
<div class="t d" style="left:235.04px;top:246.43px;width:44.98px;height:7.94px;justify-content:flex-end;text-align:right;"><span>13.606</span></div>
<div class="t d" style="left:280.82px;top:246.43px;width:44.98px;height:7.94px;justify-content:flex-end;text-align:right;"><span>14.129</span></div>
<div class="t d" style="left:326.60px;top:246.43px;width:44.98px;height:7.94px;justify-content:flex-end;text-align:right;"><span>40.979</span></div>
<div class="t d" style="left:372.38px;top:246.43px;width:44.98px;height:7.94px;justify-content:flex-end;text-align:right;"><span>958</span></div>
<div class="t d" style="left:418.16px;top:246.43px;width:44.98px;height:7.94px;justify-content:flex-end;text-align:right;"><span>56.053</span></div>
<div class="t d" style="left:463.94px;top:246.43px;width:44.98px;height:7.94px;justify-content:flex-end;text-align:right;"><span>13</span></div>
<div class="t d" style="left:509.72px;top:246.43px;width:44.98px;height:7.94px;justify-content:flex-end;text-align:right;"><span>56.066</span></div>
<div class="t d" style="left:555.50px;top:246.43px;width:44.98px;height:7.94px;justify-content:flex-end;text-align:right;"><span>471</span></div>
<div class="t d" style="left:601.28px;top:246.43px;width:44.98px;height:7.94px;justify-content:flex-end;text-align:right;"><span>687.979</span></div>
<div class="t d" style="left:647.06px;top:246.43px;width:44.98px;height:7.94px;justify-content:flex-end;text-align:right;"><span>712.406</span></div>
<div class="t d" style="left:692.84px;top:246.43px;width:44.98px;height:7.94px;justify-content:flex-end;text-align:right;"><span>25.211</span></div>
<div class="t d" style="left:738.62px;top:246.43px;width:44.98px;height:7.94px;justify-content:flex-end;text-align:right;"><span>737.617</span></div>
<div class="t d" style="left:784.40px;top:246.43px;width:44.80px;height:7.94px;justify-content:flex-end;text-align:right;"><span>4.810</span></div>
<div class="t d" style="left:27.50px;top:254.37px;width:70.00px;height:7.94px;justify-content:flex-start;text-align:left;"><span>Umbria</span></div>
<div class="t d" style="left:97.50px;top:254.37px;width:45.18px;height:7.94px;justify-content:flex-end;text-align:right;"><span>206</span></div>
<div class="t d" style="left:143.48px;top:254.37px;width:44.98px;height:7.94px;justify-content:flex-end;text-align:right;"><span>36</span></div>
<div class="t d" style="left:189.26px;top:254.37px;width:44.98px;height:7.94px;justify-content:flex-end;text-align:right;"><span>2</span></div>
<div class="t d" style="left:235.04px;top:254.37px;width:44.98px;height:7.94px;justify-content:flex-end;text-align:right;"><span>2.910</span></div>
<div class="t d" style="left:280.82px;top:254.37px;width:44.98px;height:7.94px;justify-content:flex-end;text-align:right;"><span>3.152</span></div>
<div class="t d" style="left:326.60px;top:254.37px;width:44.98px;height:7.94px;justify-content:flex-end;text-align:right;"><span>48.947</span></div>
<div class="t d" style="left:372.38px;top:254.37px;width:44.98px;height:7.94px;justify-content:flex-end;text-align:right;"><span>1.331</span></div>
<div class="t d" style="left:418.16px;top:254.37px;width:44.98px;height:7.94px;justify-content:flex-end;text-align:right;"><span>53.430</span></div>
<div class="t d" style="left:463.94px;top:254.37px;width:44.98px;height:7.94px;justify-content:flex-end;text-align:right;"><span>0</span></div>
<div class="t d" style="left:509.72px;top:254.37px;width:44.98px;height:7.94px;justify-content:flex-end;text-align:right;"><span>53.430</span></div>
<div class="t d" style="left:555.50px;top:254.37px;width:44.98px;height:7.94px;justify-content:flex-end;text-align:right;"><span>108</span></div>
<div class="t d" style="left:601.28px;top:254.37px;width:44.98px;height:7.94px;justify-content:flex-end;text-align:right;"><span>351.584</span></div>
<div class="t d" style="left:647.06px;top:254.37px;width:44.98px;height:7.94px;justify-content:flex-end;text-align:right;"><span>837.536</span></div>
<div class="t d" style="left:692.84px;top:254.37px;width:44.98px;height:7.94px;justify-content:flex-end;text-align:right;"><span>266.970</span></div>
<div class="t d" style="left:738.62px;top:254.37px;width:44.98px;height:7.94px;justify-content:flex-end;text-align:right;"><span>1.104.506</span></div>
<div class="t d" style="left:784.40px;top:254.37px;width:44.80px;height:7.94px;justify-content:flex-end;text-align:right;"><span>6.817</span></div>
<div class="t d" style="left:27.50px;top:262.31px;width:70.00px;height:7.94px;justify-content:flex-start;text-align:left;"><span>Sardegna</span></div>
<div class="t d" style="left:97.50px;top:262.31px;width:45.18px;height:7.94px;justify-content:flex-end;text-align:right;"><span>375</span></div>
<div class="t d" style="left:143.48px;top:262.31px;width:44.98px;height:7.94px;justify-content:flex-end;text-align:right;"><span>55</span></div>
<div class="t d" style="left:189.26px;top:262.31px;width:44.98px;height:7.94px;justify-content:flex-end;text-align:right;"><span>1</span></div>
<div class="t d" style="left:235.04px;top:262.31px;width:44.98px;height:7.94px;justify-content:flex-end;text-align:right;"><span>17.514</span></div>
<div class="t d" style="left:280.82px;top:262.31px;width:44.98px;height:7.94px;justify-content:flex-end;text-align:right;"><span>17.944</span></div>
<div class="t d" style="left:326.60px;top:262.31px;width:44.98px;height:7.94px;justify-content:flex-end;text-align:right;"><span>33.042</span></div>
<div class="t d" style="left:372.38px;top:262.31px;width:44.98px;height:7.94px;justify-content:flex-end;text-align:right;"><span>1.330</span></div>
<div class="t d" style="left:418.16px;top:262.31px;width:44.98px;height:7.94px;justify-content:flex-end;text-align:right;"><span>52.299</span></div>
<div class="t d" style="left:463.94px;top:262.31px;width:44.98px;height:7.94px;justify-content:flex-end;text-align:right;"><span>17</span></div>
<div class="t d" style="left:509.72px;top:262.31px;width:44.98px;height:7.94px;justify-content:flex-end;text-align:right;"><span>52.316</span></div>
<div class="t d" style="left:555.50px;top:262.31px;width:44.98px;height:7.94px;justify-content:flex-end;text-align:right;"><span>303</span></div>
<div class="t d" style="left:601.28px;top:262.31px;width:44.98px;height:7.94px;justify-content:flex-end;text-align:right;"><span>667.102</span></div>
<div class="t d" style="left:647.06px;top:262.31px;width:44.98px;height:7.94px;justify-content:flex-end;text-align:right;"><span>796.668</span></div>
<div class="t d" style="left:692.84px;top:262.31px;width:44.98px;height:7.94px;justify-content:flex-end;text-align:right;"><span>356.385</span></div>
<div class="t d" style="left:738.62px;top:262.31px;width:44.98px;height:7.94px;justify-content:flex-end;text-align:right;"><span>1.153.053</span></div>
<div class="t d" style="left:784.40px;top:262.31px;width:44.80px;height:7.94px;justify-content:flex-end;text-align:right;"><span>3.462</span></div>
<div class="t d" style="left:27.50px;top:270.25px;width:70.00px;height:7.94px;justify-content:flex-start;text-align:left;"><span>P.A. Trento</span></div>
<div class="t d" style="left:97.50px;top:270.25px;width:45.18px;height:7.94px;justify-content:flex-end;text-align:right;"><span>117</span></div>
<div class="t d" style="left:143.48px;top:270.25px;width:44.98px;height:7.94px;justify-content:flex-end;text-align:right;"><span>29</span></div>
<div class="t d" style="left:189.26px;top:270.25px;width:44.98px;height:7.94px;justify-content:flex-end;text-align:right;"><span>0</span></div>
<div class="t d" style="left:235.04px;top:270.25px;width:44.98px;height:7.94px;justify-content:flex-end;text-align:right;"><span>1.088</span></div>
<div class="t d" style="left:280.82px;top:270.25px;width:44.98px;height:7.94px;justify-content:flex-end;text-align:right;"><span>1.234</span></div>
<div class="t d" style="left:326.60px;top:270.25px;width:44.98px;height:7.94px;justify-content:flex-end;text-align:right;"><span>40.705</span></div>
<div class="t d" style="left:372.38px;top:270.25px;width:44.98px;height:7.94px;justify-content:flex-end;text-align:right;"><span>1.329</span></div>
<div class="t d" style="left:418.16px;top:270.25px;width:44.98px;height:7.94px;justify-content:flex-end;text-align:right;"><span>31.599</span></div>
<div class="t d" style="left:463.94px;top:270.25px;width:44.98px;height:7.94px;justify-content:flex-end;text-align:right;"><span>11.669</span></div>
<div class="t d" style="left:509.72px;top:270.25px;width:44.98px;height:7.94px;justify-content:flex-end;text-align:right;"><span>43.268</span></div>
<div class="t d" style="left:555.50px;top:270.25px;width:44.98px;height:7.94px;justify-content:flex-end;text-align:right;"><span>120</span></div>
<div class="t d" style="left:601.28px;top:270.25px;width:44.98px;height:7.94px;justify-content:flex-end;text-align:right;"><span>189.322</span></div>
<div class="t d" style="left:647.06px;top:270.25px;width:44.98px;height:7.94px;justify-content:flex-end;text-align:right;"><span>627.163</span></div>
<div class="t d" style="left:692.84px;top:270.25px;width:44.98px;height:7.94px;justify-content:flex-end;text-align:right;"><span>119.253</span></div>
<div class="t d" style="left:738.62px;top:270.25px;width:44.98px;height:7.94px;justify-content:flex-end;text-align:right;"><span>746.416</span></div>
<div class="t d" style="left:784.40px;top:270.25px;width:44.80px;height:7.94px;justify-content:flex-end;text-align:right;"><span>2.635</span></div>
<div class="t d" style="left:27.50px;top:278.18px;width:70.00px;height:7.94px;justify-content:flex-start;text-align:left;"><span>Basilicata</span></div>
<div class="t d" style="left:97.50px;top:278.18px;width:45.18px;height:7.94px;justify-content:flex-end;text-align:right;"><span>165</span></div>
<div class="t d" style="left:143.48px;top:278.18px;width:44.98px;height:7.94px;justify-content:flex-end;text-align:right;"><span>13</span></div>
<div class="t d" style="left:189.26px;top:278.18px;width:44.98px;height:7.94px;justify-content:flex-end;text-align:right;"><span>3</span></div>
<div class="t d" style="left:235.04px;top:278.18px;width:44.98px;height:7.94px;justify-content:flex-end;text-align:right;"><span>5.661</span></div>
<div class="t d" style="left:280.82px;top:278.18px;width:44.98px;height:7.94px;justify-content:flex-end;text-align:right;"><span>5.839</span></div>
<div class="t d" style="left:326.60px;top:278.18px;width:44.98px;height:7.94px;justify-content:flex-end;text-align:right;"><span>16.227</span></div>
<div class="t d" style="left:372.38px;top:278.18px;width:44.98px;height:7.94px;justify-content:flex-end;text-align:right;"><span>507</span></div>
<div class="t d" style="left:418.16px;top:278.18px;width:44.98px;height:7.94px;justify-content:flex-end;text-align:right;"><span>22.573</span></div>
<div class="t d" style="left:463.94px;top:278.18px;width:44.98px;height:7.94px;justify-content:flex-end;text-align:right;"><span>0</span></div>
<div class="t d" style="left:509.72px;top:278.18px;width:44.98px;height:7.94px;justify-content:flex-end;text-align:right;"><span>22.573</span></div>
<div class="t d" style="left:555.50px;top:278.18px;width:44.98px;height:7.94px;justify-content:flex-end;text-align:right;"><span>173</span></div>
<div class="t d" style="left:601.28px;top:278.18px;width:44.98px;height:7.94px;justify-content:flex-end;text-align:right;"><span>181.405</span></div>
<div class="t d" style="left:647.06px;top:278.18px;width:44.98px;height:7.94px;justify-content:flex-end;text-align:right;"><span>309.102</span></div>
<div class="t d" style="left:692.84px;top:278.18px;width:44.98px;height:7.94px;justify-content:flex-end;text-align:right;"><span>13.560</span></div>
<div class="t d" style="left:738.62px;top:278.18px;width:44.98px;height:7.94px;justify-content:flex-end;text-align:right;"><span>322.662</span></div>
<div class="t d" style="left:784.40px;top:278.18px;width:44.80px;height:7.94px;justify-content:flex-end;text-align:right;"><span>2.111</span></div>
<div class="t d" style="left:27.50px;top:286.12px;width:70.00px;height:7.94px;justify-content:flex-start;text-align:left;"><span>Molise</span></div>
<div class="t d" style="left:97.50px;top:286.12px;width:45.18px;height:7.94px;justify-content:flex-end;text-align:right;"><span>39</span></div>
<div class="t d" style="left:143.48px;top:286.12px;width:44.98px;height:7.94px;justify-content:flex-end;text-align:right;"><span>13</span></div>
<div class="t d" style="left:189.26px;top:286.12px;width:44.98px;height:7.94px;justify-content:flex-end;text-align:right;"><span>0</span></div>
<div class="t d" style="left:235.04px;top:286.12px;width:44.98px;height:7.94px;justify-content:flex-end;text-align:right;"><span>525</span></div>
<div class="t d" style="left:280.82px;top:286.12px;width:44.98px;height:7.94px;justify-content:flex-end;text-align:right;"><span>577</span></div>
<div class="t d" style="left:326.60px;top:286.12px;width:44.98px;height:7.94px;justify-content:flex-end;text-align:right;"><span>11.892</span></div>
<div class="t d" style="left:372.38px;top:286.12px;width:44.98px;height:7.94px;justify-content:flex-end;text-align:right;"><span>466</span></div>
<div class="t d" style="left:418.16px;top:286.12px;width:44.98px;height:7.94px;justify-content:flex-end;text-align:right;"><span>12.935</span></div>
<div class="t d" style="left:463.94px;top:286.12px;width:44.98px;height:7.94px;justify-content:flex-end;text-align:right;"><span>0</span></div>
<div class="t d" style="left:509.72px;top:286.12px;width:44.98px;height:7.94px;justify-content:flex-end;text-align:right;"><span>12.935</span></div>
<div class="t d" style="left:555.50px;top:286.12px;width:44.98px;height:7.94px;justify-content:flex-end;text-align:right;"><span>47</span></div>
<div class="t d" style="left:601.28px;top:286.12px;width:44.98px;height:7.94px;justify-content:flex-end;text-align:right;"><span>177.018</span></div>
<div class="t d" style="left:647.06px;top:286.12px;width:44.98px;height:7.94px;justify-content:flex-end;text-align:right;"><span>196.148</span></div>
<div class="t d" style="left:692.84px;top:286.12px;width:44.98px;height:7.94px;justify-content:flex-end;text-align:right;"><span>12.293</span></div>
<div class="t d" style="left:738.62px;top:286.12px;width:44.98px;height:7.94px;justify-content:flex-end;text-align:right;"><span>208.441</span></div>
<div class="t d" style="left:784.40px;top:286.12px;width:44.80px;height:7.94px;justify-content:flex-end;text-align:right;"><span>13.077</span></div>
<div class="t d" style="left:27.50px;top:294.06px;width:70.00px;height:7.94px;justify-content:flex-start;text-align:left;"><span>Valle d'Aosta</span></div>
<div class="t d" style="left:97.50px;top:294.06px;width:45.18px;height:7.94px;justify-content:flex-end;text-align:right;"><span>55</span></div>
<div class="t d" style="left:143.48px;top:294.06px;width:44.98px;height:7.94px;justify-content:flex-end;text-align:right;"><span>12</span></div>
<div class="t d" style="left:189.26px;top:294.06px;width:44.98px;height:7.94px;justify-content:flex-end;text-align:right;"><span>1</span></div>
<div class="t d" style="left:235.04px;top:294.06px;width:44.98px;height:7.94px;justify-content:flex-end;text-align:right;"><span>824</span></div>
<div class="t d" style="left:280.82px;top:294.06px;width:44.98px;height:7.94px;justify-content:flex-end;text-align:right;"><span>891</span></div>
<div class="t d" style="left:326.60px;top:294.06px;width:44.98px;height:7.94px;justify-content:flex-end;text-align:right;"><span>9.180</span></div>
<div class="t d" style="left:372.38px;top:294.06px;width:44.98px;height:7.94px;justify-content:flex-end;text-align:right;"><span>443</span></div>
<div class="t d" style="left:418.16px;top:294.06px;width:44.98px;height:7.94px;justify-content:flex-end;text-align:right;"><span>10.077</span></div>
<div class="t d" style="left:463.94px;top:294.06px;width:44.98px;height:7.94px;justify-content:flex-end;text-align:right;"><span>437</span></div>
<div class="t d" style="left:509.72px;top:294.06px;width:44.98px;height:7.94px;justify-content:flex-end;text-align:right;"><span>10.514</span></div>
<div class="t d" style="left:555.50px;top:294.06px;width:44.98px;height:7.94px;justify-content:flex-end;text-align:right;"><span>46</span></div>
<div class="t d" style="left:601.28px;top:294.06px;width:44.98px;height:7.94px;justify-content:flex-end;text-align:right;"><span>56.205</span></div>
<div class="t d" style="left:647.06px;top:294.06px;width:44.98px;height:7.94px;justify-content:flex-end;text-align:right;"><span>87.556</span></div>
<div class="t d" style="left:692.84px;top:294.06px;width:44.98px;height:7.94px;justify-content:flex-end;text-align:right;"><span>21.289</span></div>
<div class="t d" style="left:738.62px;top:294.06px;width:44.98px;height:7.94px;justify-content:flex-end;text-align:right;"><span>108.845</span></div>
<div class="t d" style="left:784.40px;top:294.06px;width:44.80px;height:7.94px;justify-content:flex-end;text-align:right;"><span>557</span></div>
<div class="t db" style="left:26.50px;top:302.00px;width:71.00px;height:11.80px;justify-content:center;text-align:center;font-size:5.3px"><span>TOTALE</span></div>
<div class="t db" style="left:97.50px;top:302.00px;width:45.18px;height:11.80px;justify-content:flex-end;text-align:right;"><span>22.784</span></div>
<div class="t db" style="left:143.48px;top:302.00px;width:44.98px;height:11.80px;justify-content:flex-end;text-align:right;"><span>3.076</span></div>
<div class="t db" style="left:189.26px;top:302.00px;width:44.98px;height:11.80px;justify-content:flex-end;text-align:right;"><span>155</span></div>
<div class="t db" style="left:235.04px;top:302.00px;width:44.98px;height:11.80px;justify-content:flex-end;text-align:right;"><span>449.775</span></div>
<div class="t db" style="left:280.82px;top:302.00px;width:44.98px;height:11.80px;justify-content:flex-end;text-align:right;"><span>475.635</span></div>
<div class="t db" style="left:326.60px;top:302.00px;width:44.98px;height:11.80px;justify-content:flex-end;text-align:right;"><span>3.311.267</span></div>
<div class="t db" style="left:372.38px;top:302.00px;width:44.98px;height:11.80px;justify-content:flex-end;text-align:right;"><span>117.997</span></div>
<div class="t db" style="left:418.16px;top:302.00px;width:44.98px;height:11.80px;justify-content:flex-end;text-align:right;"><span>3.772.885</span></div>
<div class="t db" style="left:463.94px;top:302.00px;width:44.98px;height:11.80px;justify-content:flex-end;text-align:right;"><span>132.014</span></div>
<div class="t db" style="left:509.72px;top:302.00px;width:44.98px;height:11.80px;justify-content:flex-end;text-align:right;"><span>3.904.899</span></div>
<div class="t db" style="left:555.50px;top:302.00px;width:44.98px;height:11.80px;justify-content:flex-end;text-align:right;"><span>13.844</span></div>
<div class="t db" style="left:601.28px;top:302.00px;width:44.98px;height:11.80px;justify-content:flex-end;text-align:right;"><span>24.794.274</span></div>
<div class="t db" style="left:647.06px;top:302.00px;width:44.98px;height:11.80px;justify-content:flex-end;text-align:right;"><span>43.673.704</span></div>
<div class="t db" style="left:692.84px;top:302.00px;width:44.98px;height:11.80px;justify-content:flex-end;text-align:right;"><span>12.211.547</span></div>
<div class="t db" style="left:738.62px;top:302.00px;width:44.98px;height:11.80px;justify-content:flex-end;text-align:right;"><span>55.885.251</span></div>
<div class="t db" style="left:784.40px;top:302.00px;width:44.80px;height:11.80px;justify-content:flex-end;text-align:right;"><span>350.034</span></div>
<div class="notes"><div class="nt">Note:</div>
<div class="nl">La Regione Abruzzo comunica che dai casi già comunicati,&nbsp; è stato eliminato 1 caso in quanto non paziente Covid.<br>
La Regione Emilia Romagna comunica che dei casi già comunicati sono stati eliminati 7 casi, positivi ai test antigenico ma non confermati da tampone molecolare.<br>
La Regione Molise comunica che&nbsp; i tamponi processati con test antigenico inseriti oggi sono le risultanze di tamponi fatti dal 15 gennaio ad oggi sul territorio.</div></div>
</body></html>
